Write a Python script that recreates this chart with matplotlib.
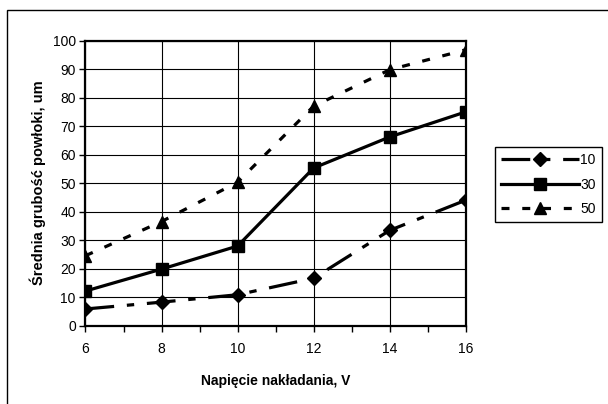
import matplotlib.pyplot as plt
from matplotlib.patches import Rectangle

plt.rcParams['font.family'] = ['Liberation Sans', 'DejaVu Sans']

# dane
napiecie = [6, 8, 10, 12, 14, 16]
seria_10 = [5.8, 8.2, 10.8, 16.6, 33.4, 44.0]
seria_30 = [12.1, 19.8, 27.9, 55.3, 66.2, 75.0]
seria_50 = [24.5, 36.5, 50.3, 77.0, 89.8, 96.8]
etykiety = ['10', '30', '50']

fig = plt.figure(figsize=(6.08, 4.04), dpi=100)
# ramka obszaru wykresu (prawa i dolna krawedz poza obrazem)
fig.patches.append(Rectangle((7 / 608, -0.05), 1.0, 1 - 10 / 404 + 0.05,
                             transform=fig.transFigure, fill=False,
                             edgecolor='black', linewidth=1.0))

ax = fig.add_axes([0.1406, 0.1943, 0.6254, 0.705])

ax.plot(napiecie, seria_10, color='black', lw=2.3, dashes=(9, 4, 2.3, 4),
        marker='D', ms=7.5, label=etykiety[0])
ax.plot(napiecie, seria_30, color='black', lw=2.3, linestyle='-',
        marker='s', ms=9, label=etykiety[1])
ax.plot(napiecie, seria_50, color='black', lw=2.3, dashes=(2.5, 4),
        marker='^', ms=9, label=etykiety[2])

ax.set_xlim(6, 16)
ax.set_ylim(0, 100)
ax.set_xticks(range(6, 17, 2))
ax.set_xticks(range(6, 17), minor=True)
ax.set_yticks(range(0, 101, 10))
ax.grid(True, which='major', color='black', linewidth=0.8)
ax.set_axisbelow(True)
for s in ax.spines.values():
    s.set_linewidth(1.6)
ax.tick_params(axis='both', which='both', direction='out', length=4,
               width=1, labelsize=10)
ax.tick_params(axis='x', pad=8)
ax.tick_params(axis='y', pad=3)

ax.set_xlabel('Napięcie nakładania, V', fontsize=10, fontweight='bold',
              labelpad=13)
ax.set_ylabel('Średnia grubość powłoki, um', fontsize=10.5, fontweight='bold',
              labelpad=5)

leg = ax.legend(loc='upper left', bbox_to_anchor=(495 / 608, 1 - 147 / 404),
                bbox_transform=fig.transFigure, frameon=True, fancybox=False,
                edgecolor='black', fontsize=10, handlelength=5.6,
                handletextpad=0.1, labelspacing=0.75, borderpad=0.45,
                borderaxespad=0, framealpha=1)
leg.get_frame().set_linewidth(1.0)

fig.savefig('out.png', dpi=100)
